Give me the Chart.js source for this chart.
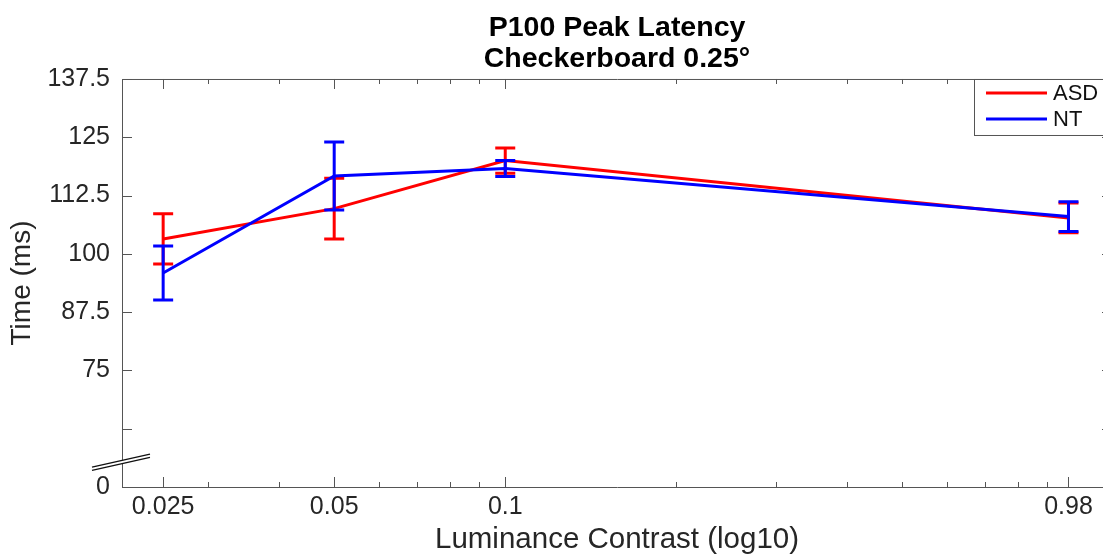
<!DOCTYPE html>
<html>
<head>
<meta charset="utf-8">
<script src="https://cdn.jsdelivr.net/npm/chart.js@4.4.1/dist/chart.umd.min.js"></script>
<style>
  html, body { margin: 0; padding: 0; background: #fff; overflow: hidden; }
  #wrap { width: 1112px; height: 555px; }
</style>
</head>
<body>
<div id="wrap"><canvas id="latencyChart" width="1112" height="555"></canvas></div>
<script>
// values
const contrast = [0.025, 0.05, 0.1, 0.98]
const asdMean = [103.2, 109.7, 120.0, 107.7]
const asdErr = [5.4, 6.5, 2.7, 3.2]
const ntMean = [95.9, 116.7, 118.3, 108.0]
const ntErr = [5.8, 7.3, 1.7, 3.2]

const xTickValues = [0.025, 0.05, 0.1, 0.98]
const xTickLabels = ["0.025", "0.05", "0.1", "0.98"]
const xMinorTicks = [0.03, 0.04, 0.06, 0.07, 0.08, 0.09, 0.2, 0.3, 0.4, 0.5, 0.6, 0.7, 0.8, 0.9]
const yTickValues = [50, 62.5, 75, 87.5, 100, 112.5, 125, 137.5]
const yTickLabels = ["0", "", "75", "87.5", "100", "112.5", "125", "137.5"]
const yBreakAt = 55.3

const FONT = "'Liberation Sans', Arial, Helvetica, sans-serif"
const AXIS_COLOR = "#555555"
const TEXT_COLOR = "#262626"

function points(means) {
  return contrast.map((x, i) => ({ x: x, y: means[i] }))
}

// box round the plot with inward ticks, like matlab
const axesBox = {
  id: "axesBox",
  beforeDatasetsDraw(chart) {
    const { ctx, chartArea: a, scales } = chart
    ctx.save()
    ctx.strokeStyle = AXIS_COLOR
    ctx.lineWidth = 1
    ctx.beginPath()
    ctx.rect(a.left + 0.5, a.top + 0.5, a.right - a.left, a.bottom - a.top)
    ctx.stroke()

    ctx.beginPath()
    yTickValues.forEach(v => {
      const y = Math.round(scales.y.getPixelForValue(v)) + 0.5
      ctx.moveTo(a.left, y); ctx.lineTo(a.left + 10, y)
      ctx.moveTo(a.right, y); ctx.lineTo(a.right - 10, y)
    })
    xTickValues.forEach(v => {
      const x = Math.round(scales.x.getPixelForValue(v)) + 0.5
      ctx.moveTo(x, a.bottom); ctx.lineTo(x, a.bottom - 10)
      ctx.moveTo(x, a.top); ctx.lineTo(x, a.top + 10)
    })
    xMinorTicks.forEach(v => {
      const x = Math.round(scales.x.getPixelForValue(v)) + 0.5
      ctx.moveTo(x, a.bottom); ctx.lineTo(x, a.bottom - 5)
      ctx.moveTo(x, a.top); ctx.lineTo(x, a.top + 5)
    })
    ctx.stroke()
    ctx.restore()
  }
}

const errorBars = {
  id: "errorBars",
  afterDatasetDraw(chart, args) {
    const ds = chart.data.datasets[args.index]
    if (!ds.errors) return
    const { ctx, scales } = chart
    ctx.save()
    ctx.strokeStyle = ds.borderColor
    ctx.lineWidth = 3
    ctx.beginPath()
    ds.data.forEach((p, i) => {
      const x = scales.x.getPixelForValue(p.x)
      const yTop = scales.y.getPixelForValue(p.y + ds.errors[i])
      const yBot = scales.y.getPixelForValue(p.y - ds.errors[i])
      ctx.moveTo(x, yTop); ctx.lineTo(x, yBot)
      ctx.moveTo(x - 10, yTop); ctx.lineTo(x + 10, yTop)
      ctx.moveTo(x - 10, yBot); ctx.lineTo(x + 10, yBot)
    })
    ctx.stroke()
    ctx.restore()
  }
}

// axis break and the boxed legend
const extras = {
  id: "extras",
  afterDraw(chart) {
    const { ctx, chartArea: a, scales } = chart
    ctx.save()

    const yb = scales.y.getPixelForValue(yBreakAt)
    const x0 = a.left - 30, x1 = a.left + 28
    const dy = 6.5
    ctx.fillStyle = "#fff"
    ctx.beginPath()
    ctx.moveTo(x0, yb + dy - 1.5); ctx.lineTo(x1, yb - dy - 1.5)
    ctx.lineTo(x1, yb - dy + 1.5); ctx.lineTo(x0, yb + dy + 1.5)
    ctx.closePath()
    ctx.fill()
    ctx.strokeStyle = "#111"
    ctx.lineWidth = 1.4
    ctx.beginPath()
    ctx.moveTo(x0, yb + dy - 1.6); ctx.lineTo(x1, yb - dy - 1.6)
    ctx.moveTo(x0, yb + dy + 1.6); ctx.lineTo(x1, yb - dy + 1.6)
    ctx.stroke()

    const lx = 974, ly = a.top, lh = 56
    ctx.fillStyle = "#fff"
    ctx.fillRect(lx + 0.5, ly + 0.5, chart.width - lx, lh)
    ctx.strokeStyle = AXIS_COLOR
    ctx.lineWidth = 1
    ctx.strokeRect(lx + 0.5, ly + 0.5, chart.width - lx, lh)

    ctx.font = "22px " + FONT
    ctx.textBaseline = "middle"
    ctx.textAlign = "left"
    chart.data.datasets.forEach((ds, i) => {
      const y = ly + 14 + i * 26
      ctx.strokeStyle = ds.borderColor
      ctx.lineWidth = 3
      ctx.beginPath()
      ctx.moveTo(986, y); ctx.lineTo(1047, y)
      ctx.stroke()
      ctx.fillStyle = "#111"
      ctx.fillText(ds.label, 1053, y + 1)
    })
    ctx.restore()
  }
}

const ctx = document.getElementById("latencyChart").getContext("2d")

new Chart(ctx, {
  type: "line",
  data: {
    datasets: [
      {
        label: "ASD",
        data: points(asdMean),
        errors: asdErr,
        borderColor: "#ff0000",
        borderWidth: 3,
        pointRadius: 0,
        order: 1
      },
      {
        label: "NT",
        data: points(ntMean),
        errors: ntErr,
        borderColor: "#0000ff",
        borderWidth: 3,
        pointRadius: 0,
        order: 0
      }
    ]
  },
  options: {
    responsive: false,
    animation: false,
    layout: { padding: 0 },
    scales: {
      x: {
        type: "logarithmic",
        min: 0.02116,
        max: 1.169,
        afterBuildTicks: s => { s.ticks = xTickValues.map(v => ({ value: v })) },
        afterFit: s => { s.height = 68 },
        grid: { display: false },
        border: { display: false },
        ticks: {
          autoSkip: false,
          maxRotation: 0,
          padding: -3,
          color: TEXT_COLOR,
          font: { family: FONT, size: 25 },
          callback: (v, i) => xTickLabels[i]
        },
        title: {
          display: true,
          text: "Luminance Contrast (log10)",
          color: TEXT_COLOR,
          font: { family: FONT, size: 29.5, lineHeight: 1.0 },
          padding: { top: 0, bottom: 0 }
        }
      },
      y: {
        type: "linear",
        min: 50,
        max: 137.5,
        afterBuildTicks: s => { s.ticks = yTickValues.map(v => ({ value: v })) },
        afterFit: s => { s.width = 122 },
        grid: { display: false },
        border: { display: false },
        ticks: {
          autoSkip: false,
          padding: 4,
          color: TEXT_COLOR,
          font: { family: FONT, size: 25 },
          callback: (v, i) => yTickLabels[i]
        },
        title: {
          display: true,
          text: "Time (ms)",
          color: TEXT_COLOR,
          font: { family: FONT, size: 28, lineHeight: 1.2 },
          padding: { top: 5, bottom: 0 }
        }
      }
    },
    plugins: {
      legend: { display: false },
      tooltip: { enabled: false },
      title: {
        display: true,
        fullSize: false,
        text: ["P100 Peak Latency", "Checkerboard 0.25°"],
        color: "#000",
        font: { family: FONT, size: 28.5, weight: "bold", lineHeight: 1.07 },
        padding: { top: 13, bottom: 5 }
      }
    }
  },
  plugins: [axesBox, errorBars, extras]
})
</script>
</body>
</html>
